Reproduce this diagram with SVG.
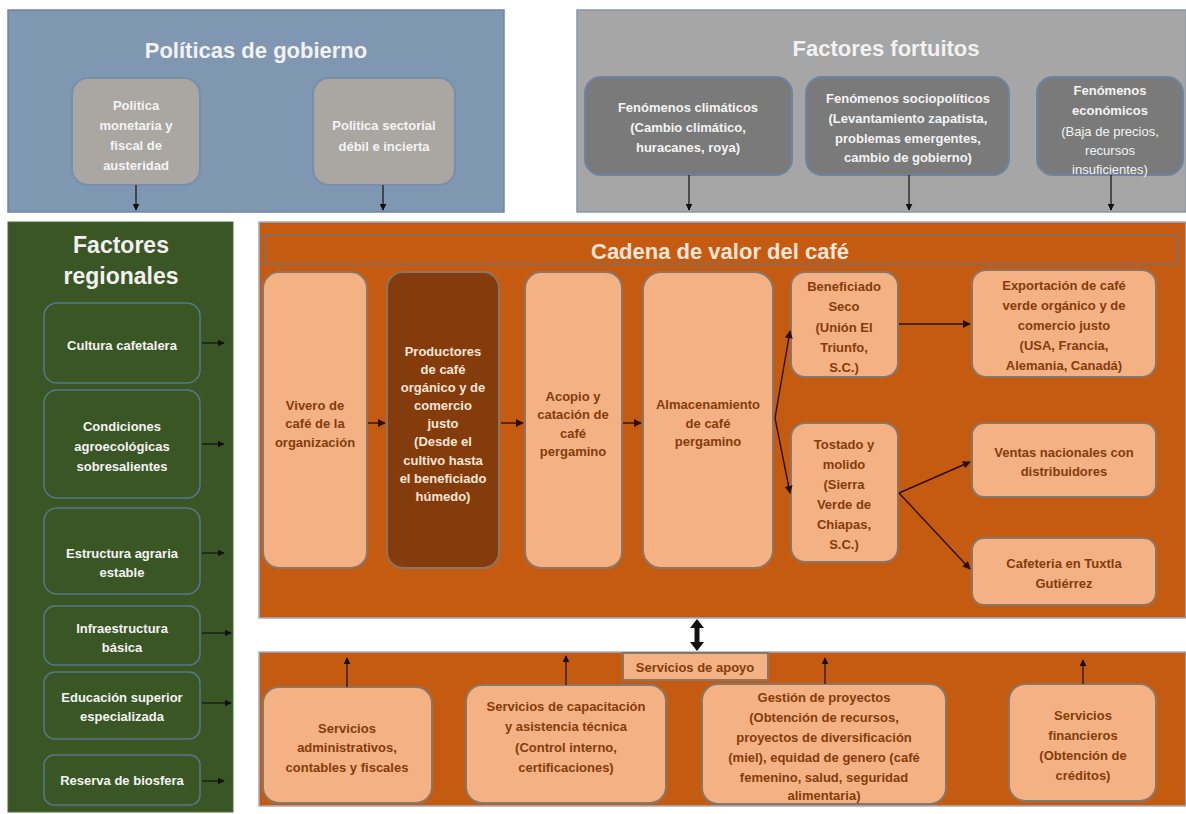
<svg xmlns="http://www.w3.org/2000/svg" width="1186" height="814" viewBox="0 0 1186 814">
<defs>
<marker id="ah" viewBox="0 0 10 10" refX="9" refY="5" markerWidth="7" markerHeight="7" markerUnits="userSpaceOnUse" orient="auto"><path d="M0,0 L10,5 L0,10 z" fill="#111"/></marker>
<marker id="ahb" viewBox="0 0 10 10" refX="9" refY="5" markerWidth="8" markerHeight="8" markerUnits="userSpaceOnUse" orient="auto"><path d="M0,0 L10,5 L0,10 z" fill="#2a1004"/></marker>
</defs>
<style>
text { font-family: "Liberation Sans", Arial, sans-serif; font-weight: bold; text-anchor: middle; font-size: 13px; }
.w { fill: #f4f4f4; }
.br { fill: #843c0c; }
.lt { fill: #fbe5d6; }
.nb { font-weight: normal; }
.ttl { font-size: 22px; fill: #f2f2f2; }
.ctl { font-size: 22px; fill: #fbe5d6; }
.conn { stroke: #111; stroke-width: 1.2; fill: none; marker-end: url(#ah); }
.connb { stroke: #2a1004; stroke-width: 1.4; fill: none; marker-end: url(#ahb); }
.light { fill: #f4b183; stroke: #8b7565; stroke-width: 2; }
.pgray { fill: #aaa6a2; stroke: #7590ad; stroke-width: 2; }
.dgray { fill: #7a7a7a; stroke: #6a84a2; stroke-width: 2; }
.gbox { fill: #3a5625; stroke: #56788a; stroke-width: 1.5; }
</style>
<rect x="0" y="0" width="1186" height="814" fill="#ffffff"/>

<g id="politicas-gobierno">
<rect x="8" y="10" width="496" height="202" fill="#8097b1" stroke="#6e87a6" stroke-width="1.5"/>
<text class="ttl" x="256" y="58">Políticas de gobierno</text>
</g>
<g id="politica-monetaria">
<rect class="pgray" x="72" y="78" width="128" height="107" rx="16"/>
<text class="w" x="136" y="110">Politica</text>
<text class="w" x="136" y="130">monetaria y</text>
<text class="w" x="136" y="150">fiscal de</text>
<text class="w" x="136" y="170">austeridad</text>
</g>
<g id="politica-sectorial">
<rect class="pgray" x="313" y="78" width="142" height="107" rx="16"/>
<text class="w" x="384" y="130">Politica sectorial</text>
<text class="w" x="384" y="151">débil e incierta</text>
</g>

<g id="factores-fortuitos">
<rect x="577" y="10" width="609" height="202" fill="#a6a6a6" stroke="#8497ad" stroke-width="1.5"/>
<text class="ttl" x="886" y="56">Factores fortuitos</text>
</g>
<g id="fenomenos-climaticos">
<rect class="dgray" x="585" y="77" width="207" height="98" rx="16"/>
<text class="w" x="688" y="112">Fenómenos climáticos</text>
<text class="w" x="688" y="132">(Cambio climático,</text>
<text class="w" x="688" y="152">huracanes, roya)</text>
</g>
<g id="fenomenos-sociopoliticos">
<rect class="dgray" x="806" y="77" width="203" height="98" rx="16"/>
<text class="w" x="908" y="103">Fenómenos sociopolíticos</text>
<text class="w" x="908" y="123">(Levantamiento zapatista,</text>
<text class="w" x="908" y="143">problemas emergentes,</text>
<text class="w" x="908" y="162">cambio de gobierno)</text>
</g>
<g id="fenomenos-economicos">
<rect class="dgray" x="1037" y="77" width="146" height="98" rx="16"/>
<text class="w" x="1110" y="95">Fenómenos</text>
<text class="w" x="1110" y="115">económicos</text>
<text class="w nb" x="1110" y="136">(Baja de precios,</text>
<text class="w nb" x="1110" y="155">recursos</text>
<text class="w nb" x="1110" y="174">insuficientes)</text>
</g>

<g id="factores-regionales">
<rect x="8" y="222" width="225" height="590" fill="#3a5625" stroke="#4a6a3a" stroke-width="1"/>
<text class="ttl" x="121" y="253" style="font-size:23px">Factores</text>
<text class="ttl" x="121" y="284" style="font-size:23px">regionales</text>
</g>
<g id="cultura-cafetalera">
<rect class="gbox" x="44" y="303" width="156" height="80" rx="13"/>
<text class="w" x="122" y="350">Cultura cafetalera</text>
</g>
<g id="condiciones-agroecologicas">
<rect class="gbox" x="44" y="390" width="156" height="108" rx="13"/>
<text class="w" x="122" y="431">Condiciones</text>
<text class="w" x="122" y="451">agroecológicas</text>
<text class="w" x="122" y="471">sobresalientes</text>
</g>
<g id="estructura-agraria">
<rect class="gbox" x="44" y="508" width="156" height="86" rx="13"/>
<text class="w" x="122" y="558">Estructura agraria</text>
<text class="w" x="122" y="577">estable</text>
</g>
<g id="infraestructura-basica">
<rect class="gbox" x="44" y="606" width="156" height="59" rx="11"/>
<text class="w" x="122" y="633">Infraestructura</text>
<text class="w" x="122" y="652">básica</text>
</g>
<g id="educacion-superior">
<rect class="gbox" x="44" y="672" width="156" height="67" rx="11"/>
<text class="w" x="122" y="702">Educación superior</text>
<text class="w" x="122" y="721">especializada</text>
</g>
<g id="reserva-biosfera">
<rect class="gbox" x="44" y="755" width="156" height="50" rx="10"/>
<text class="w" x="122" y="785">Reserva de biosfera</text>
</g>

<g id="cadena-valor">
<rect x="259" y="222" width="927" height="396" fill="#c55a11" stroke="#9fb0c8" stroke-width="1.5"/>
<rect x="265" y="235" width="912" height="29" fill="none" stroke="#8b6a58" stroke-width="2"/>
<text class="ctl" x="720" y="259">Cadena de valor del café</text>
</g>
<g id="vivero">
<rect class="light" x="263" y="272" width="104" height="296" rx="16"/>
<text class="br" x="315" y="410">Vivero de</text>
<text class="br" x="315" y="428">café de la</text>
<text class="br" x="315" y="447">organización</text>
</g>
<g id="productores">
<rect x="387" y="272" width="112" height="296" rx="16" fill="#843c0c" stroke="#8b7565" stroke-width="2"/>
<text class="lt" x="443" y="356">Productores</text>
<text class="lt" x="443" y="374">de café</text>
<text class="lt" x="443" y="392">orgánico y de</text>
<text class="lt" x="443" y="410">comercio</text>
<text class="lt" x="443" y="428">justo</text>
<text class="lt" x="443" y="446">(Desde el</text>
<text class="lt" x="443" y="465">cultivo hasta</text>
<text class="lt" x="443" y="483">el beneficiado</text>
<text class="lt" x="443" y="501">húmedo)</text>
</g>
<g id="acopio">
<rect class="light" x="525" y="272" width="97" height="296" rx="16"/>
<text class="br" x="573" y="401">Acopio y</text>
<text class="br" x="573" y="419">catación de</text>
<text class="br" x="573" y="438">café</text>
<text class="br" x="573" y="456">pergamino</text>
</g>
<g id="almacenamiento">
<rect class="light" x="643" y="272" width="130" height="296" rx="18"/>
<text class="br" x="708" y="409">Almacenamiento</text>
<text class="br" x="708" y="428">de café</text>
<text class="br" x="708" y="446">pergamino</text>
</g>
<g id="beneficiado-seco">
<rect class="light" x="791" y="272" width="107" height="105" rx="14"/>
<text class="br" x="844" y="291">Beneficiado</text>
<text class="br" x="844" y="311">Seco</text>
<text class="br" x="844" y="332">(Unión El</text>
<text class="br" x="844" y="352">Triunfo,</text>
<text class="br" x="844" y="372">S.C.)</text>
</g>
<g id="tostado-molido">
<rect class="light" x="791" y="423" width="107" height="139" rx="14"/>
<text class="br" x="844" y="449">Tostado y</text>
<text class="br" x="844" y="469">molido</text>
<text class="br" x="844" y="489">(Sierra</text>
<text class="br" x="844" y="509">Verde de</text>
<text class="br" x="844" y="529">Chiapas,</text>
<text class="br" x="844" y="549">S.C.)</text>
</g>
<g id="exportacion">
<rect class="light" x="972" y="270" width="184" height="107" rx="14"/>
<text class="br" x="1064" y="290">Exportación de café</text>
<text class="br" x="1064" y="310">verde orgánico y de</text>
<text class="br" x="1064" y="330">comercio justo</text>
<text class="br" x="1064" y="350">(USA, Francia,</text>
<text class="br" x="1064" y="370">Alemania, Canadá)</text>
</g>
<g id="ventas-nacionales">
<rect class="light" x="972" y="423" width="184" height="74" rx="12"/>
<text class="br" x="1064" y="457">Ventas nacionales con</text>
<text class="br" x="1064" y="476">distribuidores</text>
</g>
<g id="cafeteria">
<rect class="light" x="972" y="538" width="184" height="67" rx="12"/>
<text class="br" x="1064" y="568">Cafeteria en Tuxtla</text>
<text class="br" x="1064" y="588">Gutiérrez</text>
</g>

<g id="servicios-apoyo">
<rect x="259" y="652" width="927" height="154" fill="#c55a11" stroke="#9fb0c8" stroke-width="1.5"/>
<rect class="light" x="623" y="653" width="145" height="27" stroke-width="1.5"/>
<text class="br" x="695" y="672">Servicios de apoyo</text>
</g>
<g id="servicios-administrativos">
<rect class="light" x="263" y="687" width="169" height="116" rx="16"/>
<text class="br" x="347" y="733">Servicios</text>
<text class="br" x="347" y="752">administrativos,</text>
<text class="br" x="347" y="772">contables y fiscales</text>
</g>
<g id="servicios-capacitacion">
<rect class="light" x="466" y="685" width="200" height="118" rx="16"/>
<text class="br" x="566" y="711">Servicios de capacitación</text>
<text class="br" x="566" y="731">y asistencia técnica</text>
<text class="br" x="566" y="752">(Control interno,</text>
<text class="br" x="566" y="772">certificaciones)</text>
</g>
<g id="gestion-proyectos">
<rect class="light" x="702" y="684" width="244" height="120" rx="16"/>
<text class="br" x="824" y="702">Gestión de proyectos</text>
<text class="br" x="824" y="722">(Obtención de recursos,</text>
<text class="br" x="824" y="742">proyectos de diversificación</text>
<text class="br" x="824" y="762">(miel), equidad de genero (café</text>
<text class="br" x="824" y="782">femenino, salud, seguridad</text>
<text class="br" x="824" y="800">alimentaria)</text>
</g>
<g id="servicios-financieros">
<rect class="light" x="1009" y="684" width="147" height="117" rx="16"/>
<text class="br" x="1083" y="720">Servicios</text>
<text class="br" x="1083" y="740">financieros</text>
<text class="br" x="1083" y="760">(Obtención de</text>
<text class="br" x="1083" y="780">créditos)</text>
</g>

<g id="connectors">
<path class="conn" d="M136,185 V210"/>
<path class="conn" d="M383,185 V210"/>
<path class="conn" d="M689,175 V210"/>
<path class="conn" d="M909,175 V210"/>
<path class="conn" d="M1111,175 V210"/>
<path class="conn" d="M202,343 H224"/>
<path class="conn" d="M202,444 H224"/>
<path class="conn" d="M202,553 H224"/>
<path class="conn" d="M202,633 H231"/>
<path class="conn" d="M202,703 H231"/>
<path class="conn" d="M202,781 H224"/>
<path class="connb" d="M368,423 H385"/>
<path class="connb" d="M501,423 H523"/>
<path class="connb" d="M623,423 H641"/>
<path class="connb" d="M775,418 L790,331"/>
<path class="connb" d="M775,418 L790,493"/>
<path class="connb" d="M899,324 H970"/>
<path class="connb" d="M899,493 L970,462"/>
<path class="connb" d="M899,493 L970,569"/>
<path class="conn" d="M347,687 V658"/>
<path class="conn" d="M566,685 V656"/>
<path class="conn" d="M825,684 V658"/>
<path class="conn" d="M1083,684 V660"/>
<path d="M697,619 L690,628 H694.5 V642 H690 L697,651 L704,642 H699.5 V628 H704 Z" fill="#111"/>
</g>
</svg>
